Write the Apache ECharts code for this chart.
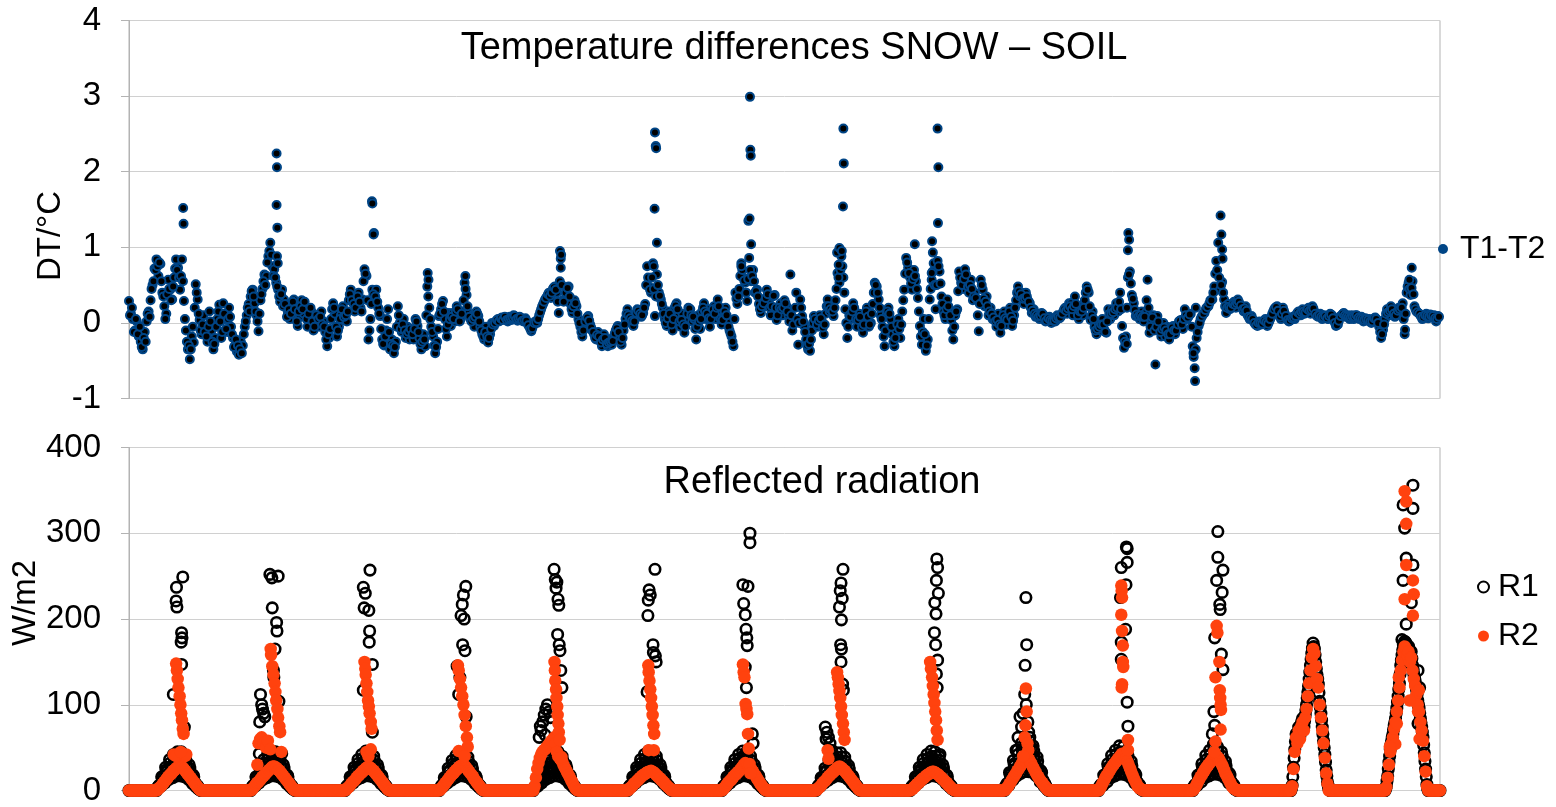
<!DOCTYPE html>
<html>
<head>
<meta charset="utf-8">
<script src="https://cdn.jsdelivr.net/npm/echarts@6/dist/echarts.min.js"></script>
<style>
html,body{margin:0;padding:0;background:#fff;}
#chart{width:1556px;height:807px;}
</style>
</head>
<body>
<div id="chart"></div>
<script>
const FONT = '"Liberation Sans", Arial, sans-serif';
const DAY = 24;            // hours per day
const X_MAX = 334;         // length of the record in hours
const SLOTS_PER_HOUR = 3;  // radiation logged every 20 minutes
const FIRST_DAY_SLOT = 22; // 07:20, first slot of the in-between daytime samples

// Axis scales
const tempAxis = { min: -1, max: 4, step: 1 };
const radAxis = { min: 0, max: 400, step: 100 };

// T1-T2 (°C) on the full half hour (hh:00 / hh:30), one row per day
const dtHalfHourly = [
  0.29,0.12,0.05,-0.10,0.02,-0.18,-0.25,-0.35,-0.12,0.02,0.15,0.30,0.50,0.72,0.84,0.62,0.78,0.40,0.22,0.12,0.57,0.44,0.31,0.60,0.84,0.73,0.44,0.84,0.29,-0.10,-0.35,-0.48,-0.18,-0.26,0.51,0.31,0.04,-0.15,0.10,-0.05,-0.25,0.15,-0.10,-0.35,-0.20,0.05,0.24,-0.20,
  0.26,0.05,-0.12,0.20,-0.05,-0.20,-0.30,-0.38,-0.42,-0.25,-0.30,-0.05,0.10,0.25,0.35,0.44,0.26,0.10,-0.11,0.30,0.45,0.64,0.62,0.88,1.06,0.75,0.71,0.53,0.44,0.28,0.44,0.31,0.20,0.13,0.05,0.20,0.31,0.10,-0.04,0.08,0.30,0.12,0.20,-0.05,0.08,0.15,-0.10,0.02,
  0.10,-0.05,0.15,0.02,-0.12,-0.31,-0.20,0.05,0.26,0.12,-0.18,-0.05,0.10,0.22,0.13,0.02,0.30,0.44,0.35,0.15,0.25,0.40,0.20,0.31,0.71,0.62,-0.22,0.05,0.44,0.30,0.44,0.20,0.09,-0.22,-0.30,-0.10,0.18,-0.35,-0.22,-0.40,-0.25,0.22,0.00,-0.12,0.05,-0.20,-0.05,-0.22,
  -0.10,-0.22,0.05,-0.04,-0.20,-0.35,-0.15,-0.31,0.48,0.20,-0.05,-0.18,-0.40,-0.25,0.09,0.18,0.29,0.05,-0.18,0.13,-0.04,0.13,0.02,0.22,0.10,0.05,0.15,0.53,0.37,0.13,0.05,0.10,-0.05,0.15,0.09,-0.05,-0.15,-0.22,-0.05,-0.26,-0.15,0.00,-0.04,0.02,0.05,0.03,0.07,0.05,
  0.06,0.02,0.08,0.04,0.10,0.07,0.03,0.08,0.05,0.02,0.06,0.00,-0.05,-0.11,-0.03,0.02,0.00,0.10,0.18,0.25,0.31,0.35,0.40,0.33,0.45,0.48,0.40,0.13,0.73,0.30,0.31,0.45,0.48,0.25,0.13,0.30,0.22,0.05,-0.05,-0.18,-0.04,0.05,0.09,-0.02,-0.10,-0.15,-0.22,-0.12,
  -0.20,-0.31,-0.15,-0.25,-0.31,-0.22,-0.29,-0.18,-0.10,-0.04,-0.20,-0.29,-0.10,0.05,0.18,0.02,0.10,-0.04,0.08,0.18,0.15,0.08,0.13,0.25,0.75,0.48,0.40,0.79,0.09,0.64,0.40,0.31,0.20,0.05,-0.04,0.15,0.08,-0.10,0.20,0.26,0.10,-0.05,0.12,-0.13,0.05,0.20,0.18,0.02,
  0.05,-0.22,0.10,-0.08,0.15,0.26,0.05,0.18,-0.05,0.13,0.22,0.05,0.31,0.15,-0.02,0.09,0.20,0.02,-0.10,-0.18,-0.31,0.40,0.25,0.45,0.79,0.60,0.53,0.29,0.86,0.55,0.70,0.40,0.44,0.25,0.13,0.30,0.22,0.44,0.30,0.10,0.35,0.37,0.04,0.15,0.26,0.10,0.30,0.22,
  0.10,0.64,-0.10,0.05,0.40,-0.29,0.31,0.09,-0.04,-0.22,-0.35,-0.37,-0.10,0.09,0.00,-0.05,0.10,0.02,-0.15,0.12,0.31,0.15,0.20,0.09,0.30,0.66,0.53,0.88,0.60,0.18,-0.20,0.10,0.05,0.26,0.15,-0.05,0.12,0.04,-0.13,0.10,0.20,-0.05,0.00,0.25,0.53,0.48,0.31,0.10,
  -0.05,-0.31,0.10,0.20,0.05,-0.15,-0.31,-0.10,0.05,-0.20,0.15,0.44,0.86,0.73,0.60,0.44,0.70,0.55,0.33,-0.04,-0.29,0.05,-0.37,-0.22,0.31,0.57,0.79,0.18,0.82,0.68,0.35,0.15,0.05,0.31,0.15,0.04,-0.22,0.10,0.18,0.68,0.53,0.45,0.71,0.57,0.40,0.57,0.30,0.40,
  0.31,-0.11,0.57,0.44,0.22,0.35,0.10,0.20,0.05,0.09,-0.05,0.12,-0.13,0.05,0.15,-0.02,0.09,0.20,-0.04,0.10,0.30,0.48,0.35,0.40,0.25,0.40,0.30,0.26,0.13,0.18,0.08,0.12,0.05,0.13,0.10,0.02,0.04,0.08,0.00,0.05,0.02,0.10,0.06,0.09,0.15,0.20,0.12,0.26,
  0.26,0.10,0.35,0.15,0.05,0.22,0.10,0.30,0.48,0.40,0.04,0.15,-0.05,-0.15,0.00,-0.10,0.05,-0.09,-0.13,0.18,0.05,0.18,0.10,0.26,0.15,0.40,-0.04,-0.33,-0.18,0.60,0.68,0.37,0.26,0.09,0.13,0.05,0.15,0.02,0.13,0.57,-0.13,0.04,0.10,-0.55,0.09,-0.05,-0.18,0.00,
  -0.18,-0.05,-0.22,-0.10,-0.04,-0.15,-0.05,0.02,0.04,-0.08,0.18,0.05,0.09,0.12,-0.31,-0.60,-0.20,-0.04,0.05,0.10,0.13,0.20,0.22,0.30,0.31,0.48,0.82,1.06,0.44,0.54,0.31,0.13,0.25,0.18,0.22,0.28,0.20,0.31,0.25,0.22,0.15,0.22,0.10,0.05,0.09,0.02,-0.02,-0.04,
  0.02,-0.02,0.00,0.05,-0.04,0.02,0.08,0.15,0.20,0.22,0.10,0.05,0.20,0.12,0.05,0.02,0.04,0.08,0.05,0.12,0.15,0.10,0.18,0.12,0.15,0.20,0.12,0.22,0.15,0.10,0.08,0.12,0.05,0.10,0.08,0.05,0.12,0.10,0.03,-0.04,-0.02,0.08,0.10,0.13,0.08,0.10,0.05,0.10,
  0.05,0.10,0.09,0.05,0.08,0.02,0.06,0.03,0.05,0.00,0.04,0.07,0.04,-0.05,-0.20,-0.09,0.05,0.18,0.10,0.22,0.15,0.08,0.13,0.20,0.15,0.26,-0.15,0.40,0.53,0.37,0.55,0.22,0.15,0.13,0.10,0.05,0.09,0.12,0.06,0.11,0.08,0.10,0.02,0.09
];

// T1-T2 (°C) at quarter past / quarter to (hh:15 / hh:45), one row per day
const dtQuarterPast = [
  0.10,0.20,-0.12,0.05,-0.15,-0.05,-0.32,-0.20,-0.25,0.12,0.08,0.45,0.55,0.70,0.75,0.80,0.55,0.35,0.05,0.38,0.45,0.30,0.48,0.72,0.70,0.60,0.62,0.55,0.05,-0.25,-0.30,-0.35,-0.05,0.20,0.40,0.12,-0.10,-0.02,-0.12,-0.18,-0.05,0.02,-0.25,-0.28,-0.05,0.15,0.02,-0.12,
  0.12,-0.08,0.05,0.08,-0.15,-0.32,-0.22,-0.30,-0.35,-0.40,-0.15,0.02,0.20,0.15,0.42,0.35,0.15,0.02,0.12,0.38,0.55,0.50,0.80,0.95,0.90,0.62,0.60,0.48,0.35,0.38,0.22,0.25,0.08,0.18,0.12,0.28,0.18,0.02,0.15,0.22,0.18,0.28,0.05,0.12,0.20,0.02,-0.05,0.10,
  0.05,0.08,-0.02,-0.05,-0.22,-0.15,-0.08,0.18,0.20,-0.05,-0.10,0.05,0.18,0.08,0.10,0.15,0.38,0.30,0.25,0.20,0.35,0.28,0.15,0.55,0.65,0.30,-0.10,0.25,0.38,0.35,0.28,0.12,-0.08,-0.28,-0.18,0.05,-0.12,-0.28,-0.30,-0.32,-0.05,0.10,-0.08,-0.02,-0.10,-0.15,-0.12,-0.08,
  -0.15,-0.08,0.02,-0.12,-0.28,-0.25,-0.22,0.10,0.35,0.05,-0.12,-0.30,-0.32,-0.08,0.12,0.25,0.15,-0.08,-0.02,0.05,0.08,0.05,0.15,0.18,0.02,0.12,0.30,0.45,0.22,0.08,0.02,0.05,0.08,0.12,0.02,-0.10,-0.18,-0.12,-0.18,-0.20,-0.08,-0.02,0.00,0.04,0.02,0.06,0.04,0.08,
  0.04,0.05,0.06,0.07,0.09,0.05,0.06,0.07,0.03,0.04,0.03,-0.03,-0.08,-0.07,0.00,0.01,0.05,0.14,0.22,0.28,0.33,0.38,0.36,0.40,0.47,0.44,0.28,0.55,0.50,0.28,0.40,0.46,0.35,0.18,0.22,0.26,0.12,0.00,-0.12,-0.10,0.02,0.07,0.03,-0.06,-0.12,-0.20,-0.16,-0.18,
  -0.26,-0.22,-0.20,-0.28,-0.26,-0.25,-0.24,-0.14,-0.07,-0.12,-0.25,-0.20,-0.02,0.12,0.10,0.06,0.03,0.02,0.13,0.16,0.12,0.10,0.20,0.50,0.60,0.44,0.60,0.45,0.35,0.50,0.36,0.25,0.12,0.00,0.06,0.12,-0.02,0.05,0.23,0.18,0.02,0.04,-0.02,-0.05,0.12,0.19,0.10,0.08,
  -0.08,-0.05,0.02,0.05,0.20,0.15,0.12,0.06,0.05,0.18,0.12,0.20,0.22,0.05,0.04,0.15,0.10,-0.05,-0.14,-0.25,0.05,0.32,0.35,0.62,0.70,0.56,0.40,0.58,0.70,0.62,0.55,0.42,0.35,0.18,0.22,0.26,0.33,0.38,0.20,0.22,0.36,0.20,0.10,0.20,0.18,0.20,0.26,0.15,
  0.02,0.10,-0.02,0.20,0.05,0.00,0.20,0.02,-0.12,-0.30,-0.28,-0.22,0.00,0.05,-0.02,0.03,0.06,-0.06,-0.02,0.22,0.22,0.18,0.15,0.20,0.45,0.60,0.70,0.75,0.40,0.00,-0.05,0.08,0.15,0.20,0.05,0.04,0.08,-0.05,-0.02,0.15,0.08,-0.02,0.12,0.40,0.50,0.40,0.20,0.05,
  -0.18,-0.10,0.15,0.12,-0.05,-0.25,-0.20,-0.02,-0.08,-0.02,0.30,0.65,0.80,0.66,0.52,0.58,0.62,0.45,0.15,-0.18,-0.12,-0.15,-0.30,0.05,0.45,0.68,0.50,0.50,0.75,0.52,0.25,0.10,0.18,0.22,0.10,-0.10,-0.05,0.15,0.42,0.60,0.50,0.58,0.64,0.48,0.50,0.45,0.35,0.33,
  0.10,0.25,0.50,0.32,0.28,0.22,0.15,0.12,0.07,0.02,0.04,-0.02,-0.04,0.10,0.06,0.04,0.15,0.08,0.03,0.20,0.40,0.42,0.38,0.32,0.33,0.35,0.28,0.20,0.16,0.12,0.10,0.08,0.09,0.12,0.06,0.03,0.06,0.04,0.03,0.03,0.06,0.08,0.07,0.12,0.18,0.16,0.19,0.22,
  0.18,0.22,0.25,0.10,0.15,0.15,0.20,0.40,0.44,0.22,0.10,0.05,-0.10,-0.08,-0.05,-0.02,-0.02,-0.12,0.02,0.12,0.12,0.14,0.18,0.20,0.28,0.18,-0.20,-0.25,0.20,0.64,0.52,0.32,0.17,0.11,0.09,0.10,0.08,0.08,0.30,0.20,-0.05,0.07,-0.10,-0.05,0.02,-0.12,-0.08,-0.06,
  -0.10,-0.15,-0.15,-0.06,-0.10,-0.10,-0.02,0.03,-0.02,0.05,0.10,0.07,0.11,-0.05,-0.45,-0.35,-0.12,0.00,0.08,0.12,0.17,0.21,0.26,0.30,0.40,0.65,0.70,0.60,0.50,0.40,0.22,0.20,0.21,0.20,0.25,0.24,0.26,0.28,0.23,0.18,0.19,0.16,0.08,0.07,0.05,0.00,-0.03,0.00,
  0.00,-0.01,0.03,0.01,-0.01,0.05,0.12,0.18,0.21,0.16,0.08,0.12,0.16,0.09,0.04,0.03,0.06,0.07,0.09,0.14,0.12,0.14,0.15,0.14,0.18,0.16,0.17,0.19,0.12,0.09,0.10,0.08,0.07,0.09,0.06,0.09,0.11,0.06,0.00,-0.03,0.03,0.09,0.12,0.10,0.09,0.08,0.07,0.08,
  0.08,0.10,0.07,0.06,0.05,0.04,0.05,0.04,0.02,0.02,0.06,0.05,0.00,-0.12,-0.15,-0.02,0.12,0.14,0.16,0.18,0.12,0.10,0.16,0.18,0.20,0.05,0.12,0.48,0.45,0.46,0.38,0.18,0.14,0.12,0.08,0.07,0.10,0.09,0.08,0.10,0.09,0.06,0.05,0.08
];

// Extra T1-T2 readings during the rapid midday swings: [hour, °C]
const dtPeaks = [
  [13.8,1.52],[13.9,1.31],
  [37.6,2.24],[37.7,2.06],[37.6,1.56],[37.8,1.26],[37.7,0.88],[37.9,0.79],
  [61.9,1.61],[62.0,1.58],[62.4,1.19],[62.3,1.17],
  [76.1,0.66],[76.3,0.57],[85.7,0.62],
  [109.8,0.95],[110.0,0.85],[110.1,0.90],
  [133.7,0.75],[133.9,1.51],[134.0,2.52],[134.2,2.34],[134.3,2.31],[134.5,1.06],
  [156.0,0.75],[157.8,1.35],[158.1,1.38],[158.2,2.99],[158.3,2.29],[158.4,2.21],[158.5,1.04],
  [180.4,0.93],[181.0,0.99],[180.8,0.77],[181.6,0.95],[181.9,1.54],[182.0,2.57],[182.1,2.11],
  [200.2,1.04],[204.5,0.66],[204.6,1.08],[204.8,0.93],[206.0,2.57],[206.2,2.06],[206.1,1.32],
  [254.2,-0.28],[254.5,0.96],[254.6,1.19],[254.8,1.10],
  [271.2,-0.40],[271.6,-0.77],[271.8,0.20],
  [278.1,1.42],[278.3,1.17],[278.5,0.97],[278.6,0.85],
  [325.1,-0.09],[326.2,0.57],[326.8,0.73]
];

// Reflected radiation R1 (W/m2), one row per day, one value every 20 minutes from 00:00
const r1Rows = [
  [0,0,0,0,0,0,0,0,0,0,0,0,0,0,0,0,0,0,0,0,0,0, 4,6,6,16,15,12,27,22,16,36,28,20,42,33,22,45,34,23,45,33,21,40,28,17,30,20,11,18,10,5,6,2,1, 0,0,0,0,0,0,0,0,0,0,0,0,0,0,0,0,0],
  [0,0,0,0,0,0,0,0,0,0,0,0,0,0,0,0,0,0,0,0,0,0, 4,6,6,16,15,12,27,22,16,36,28,20,42,33,22,46,34,23,45,33,21,40,28,17,30,20,11,18,10,5,6,2,1, 0,0,0,0,0,0,0,0,0,0,0,0,0,0,0,0,0],
  [0,0,0,0,0,0,0,0,0,0,0,0,0,0,0,0,0,0,0,0,0,0, 4,6,6,16,15,12,27,22,16,36,28,20,42,33,22,46,34,23,45,33,21,40,28,17,30,20,11,18,10,5,6,2,1, 0,0,0,0,0,0,0,0,0,0,0,0,0,0,0,0,0],
  [0,0,0,0,0,0,0,0,0,0,0,0,0,0,0,0,0,0,0,0,0,0, 3,6,6,15,15,12,26,22,16,35,28,19,41,32,22,44,33,22,44,32,21,39,27,17,29,19,11,17,10,5,6,2,1, 0,0,0,0,0,0,0,0,0,0,0,0,0,0,0,0,0],
  [0,0,0,0,0,0,0,0,0,0,0,0,0,0,0,0,0,0,0,0,0,0, 4,6,6,16,15,12,27,22,16,36,28,20,42,33,22,46,34,23,45,33,21,40,28,17,30,20,11,18,10,5,6,2,1, 0,0,0,0,0,0,0,0,0,0,0,0,0,0,0,0,0],
  [0,0,0,0,0,0,0,0,0,0,0,0,0,0,0,0,0,0,0,0,0,0, 4,6,6,16,15,12,27,22,16,36,28,20,42,33,22,46,34,23,45,33,21,40,28,17,30,20,11,18,10,5,6,2,1, 0,0,0,0,0,0,0,0,0,0,0,0,0,0,0,0,0],
  [0,0,0,0,0,0,0,0,0,0,0,0,0,0,0,0,0,0,0,0,0,0, 4,6,6,16,15,12,27,22,16,36,28,20,42,33,22,46,34,23,45,33,21,40,28,17,30,20,11,18,10,5,6,2,1, 0,0,0,0,0,0,0,0,0,0,0,0,0,0,0,0,0],
  [0,0,0,0,0,0,0,0,0,0,0,0,0,0,0,0,0,0,0,0,0,0, 3,6,6,15,15,12,26,22,16,35,28,19,41,32,22,44,33,22,44,32,21,39,27,17,29,19,11,17,10,5,6,2,1, 0,0,0,0,0,0,0,0,0,0,0,0,0,0,0,0,0],
  [0,0,0,0,0,0,0,0,0,0,0,0,0,0,0,0,0,0,0,0,0,0, 4,6,6,16,15,12,27,22,16,36,28,20,42,33,22,46,34,23,45,33,21,40,28,17,30,20,11,18,10,5,6,2,1, 0,0,0,0,0,0,0,0,0,0,0,0,0,0,0,0,0],
  [0,0,0,0,0,0,0,0,0,0,0,0,0,0,0,0,0,0,0,0,0,0, 5,8,8,21,20,16,35,29,21,47,36,26,55,43,29,60,44,30,58,43,27,52,36,22,39,26,14,23,13,7,8,3,1, 0,0,0,0,0,0,0,0,0,0,0,0,0,0,0,0,0],
  [0,0,0,0,0,0,0,0,0,0,0,0,0,0,0,0,0,0,0,0,0,0, 5,7,7,18,17,14,31,25,18,41,32,23,47,37,25,52,38,26,51,37,24,45,32,19,34,23,12,20,11,6,7,2,1, 0,0,0,0,0,0,0,0,0,0,0,0,0,0,0,0,0],
  [0,0,0,0,0,0,0,0,0,0,0,0,0,0,0,0,0,0,0,0,0,0, 5,7,7,18,17,14,31,25,18,41,32,23,47,37,25,52,38,26,51,37,24,45,32,19,34,23,12,20,11,6,7,2,1, 0,0,0,0,0,0,0,0,0,0,0,0,0,0,0,0,0],
  [0,0,0,0,0,0,0,0,0,0,0,0,0,0,0,0,0,0,0,0,0,0, 0,0,0,6,27,48,66,58,74,64,78,84,74,88,100,115,130,146,160,172,165,150,135,124,104,90,74,58,42,24,10,2,0, 0,0,0,0,0,0,0,0,0,0,0,0,0,0,0,0,0],
  [0,0,0,0,0,0,0,0,0,0,0,0,0,0,0,0,0,0,0,0,0,0, 0,0,0,5,17,33,48,58,66,76,84,96,110,125,146,158,170,174,172,164,168,158,162,146,136,128,118,105,96,84,74,62,44,25,7, 0,0,0,0,0,0,0,0,0,0]
];

// R1 (W/m2) ten minutes after each daytime slot, starting 07:30, one row per day
const r1DaytimeBetween = [
  [4,5,5,14,12,9,24,19,13,32,24,15,37,27,17,40,29,17,40,27,16,35,23,13,26,16,8,16,9,4,5,2,1],
  [4,5,5,14,12,9,24,19,13,32,24,15,37,27,17,40,29,17,40,27,16,35,23,13,26,16,8,16,9,4,5,2,1],
  [4,5,5,14,12,9,24,19,13,32,24,15,37,27,17,40,29,17,40,27,16,35,23,13,26,16,8,16,9,4,5,2,1],
  [3,5,5,13,12,9,23,18,12,31,23,15,36,26,17,39,28,17,39,26,16,34,22,13,25,15,8,15,9,4,5,2,1],
  [4,5,5,14,12,9,24,19,13,32,24,15,37,27,17,40,29,17,40,27,16,35,23,13,26,16,8,16,9,4,5,2,1],
  [4,5,5,14,12,9,24,19,13,32,24,15,37,27,17,40,29,17,40,27,16,35,23,13,26,16,8,16,9,4,5,2,1],
  [4,5,5,14,12,9,24,19,13,32,24,15,37,27,17,40,29,17,40,27,16,35,23,13,26,16,8,16,9,4,5,2,1],
  [3,5,5,13,12,9,23,18,12,31,23,15,36,26,17,39,28,17,39,26,16,34,22,13,25,15,8,15,9,4,5,2,1],
  [4,5,5,14,12,9,24,19,13,32,24,15,37,27,17,40,29,17,40,27,16,35,23,13,26,16,8,16,9,4,5,2,1],
  [5,6,6,18,16,12,31,25,17,42,31,20,48,35,22,52,38,22,52,35,21,46,30,17,34,21,10,21,12,5,6,3,1],
  [5,6,6,16,14,10,27,21,15,36,27,17,42,31,19,45,33,19,45,31,18,40,26,15,29,18,9,18,10,5,6,2,1],
  [5,6,6,16,14,10,27,21,15,36,27,17,42,31,19,45,33,19,45,31,18,40,26,15,29,18,9,18,10,5,6,2,1],
  [0,0,3,16,38,57,62,66,69,71,81,79,81,94,108,122,138,153,166,168,158,142,130,114,97,82,66,50,33,17,6,1,0],
  [0,0,2,11,25,40,53,62,71,80,90,103,118,136,152,164,172,173,168,166,163,160,154,141,132,123,112,100,90,79,68,53,34,16,3]
];

// Reflected radiation R2 (W/m2), same 20-minute sampling as R1
const r2Rows = [
  [0,0,0,0,0,0,0,0,0,0,0,0,0,0,0,0,0,0,0,0,0,0, 1,3,4,6,8,10,12,14,16,18,19,21,23,24,26,27,28,29,28,27,25,23,21,19,17,15,13,11,9,7,5,3,1, 0,0,0,0,0,0,0,0,0,0,0,0,0,0,0,0,0],
  [0,0,0,0,0,0,0,0,0,0,0,0,0,0,0,0,0,0,0,0,0,0, 1,3,5,7,9,10,12,14,16,17,19,21,22,24,25,27,28,28,27,26,24,23,21,19,17,15,13,11,9,7,5,3,1, 0,0,0,0,0,0,0,0,0,0,0,0,0,0,0,0,0],
  [0,0,0,0,0,0,0,0,0,0,0,0,0,0,0,0,0,0,0,0,0,0, 1,3,4,6,8,10,11,13,15,17,18,20,21,23,24,26,27,28,27,26,24,23,21,19,17,15,13,11,9,7,5,3,1, 0,0,0,0,0,0,0,0,0,0,0,0,0,0,0,0,0],
  [0,0,0,0,0,0,0,0,0,0,0,0,0,0,0,0,0,0,0,0,0,0, 1,3,5,7,9,11,13,15,17,19,20,22,24,25,27,28,29,30,29,28,26,24,22,20,18,16,13,11,9,7,5,3,1, 0,0,0,0,0,0,0,0,0,0,0,0,0,0,0,0,0],
  [0,0,0,0,0,0,0,0,0,0,0,0,0,0,0,0,0,0,0,0,0,0, 5,15,25,32,38,42,45,47,48,50,52,54,56,58,60,62,55,45,40,38,36,34,30,27,24,21,18,15,12,9,6,3,1, 0,0,0,0,0,0,0,0,0,0,0,0,0,0,0,0,0],
  [0,0,0,0,0,0,0,0,0,0,0,0,0,0,0,0,0,0,0,0,0,0, 1,3,4,6,8,9,11,12,14,15,17,18,19,20,21,22,22,23,22,21,20,18,17,15,14,12,11,9,7,6,4,3,1, 0,0,0,0,0,0,0,0,0,0,0,0,0,0,0,0,0],
  [0,0,0,0,0,0,0,0,0,0,0,0,0,0,0,0,0,0,0,0,0,0, 1,3,5,7,9,11,12,14,16,18,19,21,22,24,26,28,30,32,31,30,28,26,24,22,19,17,14,12,9,7,5,3,1, 0,0,0,0,0,0,0,0,0,0,0,0,0,0,0,0,0],
  [0,0,0,0,0,0,0,0,0,0,0,0,0,0,0,0,0,0,0,0,0,0, 1,3,4,6,8,10,11,13,15,17,18,20,21,23,24,26,27,28,27,26,24,23,21,19,17,15,13,11,9,7,5,3,1, 0,0,0,0,0,0,0,0,0,0,0,0,0,0,0,0,0],
  [0,0,0,0,0,0,0,0,0,0,0,0,0,0,0,0,0,0,0,0,0,0, 1,2,4,5,7,8,10,11,13,14,15,17,18,19,20,21,22,22,21,20,19,18,16,15,13,12,10,9,7,5,4,2,1, 0,0,0,0,0,0,0,0,0,0,0,0,0,0,0,0,0],
  [0,0,0,0,0,0,0,0,0,0,0,0,0,0,0,0,0,0,0,0,0,0, 1,3,5,8,10,13,15,18,20,23,25,28,30,33,35,38,40,38,36,33,30,27,24,21,18,16,13,11,9,7,5,3,1, 0,0,0,0,0,0,0,0,0,0,0,0,0,0,0,0,0],
  [0,0,0,0,0,0,0,0,0,0,0,0,0,0,0,0,0,0,0,0,0,0, 2,5,8,11,14,17,19,22,24,27,29,31,33,35,37,39,41,43,42,40,37,34,30,26,22,18,14,11,8,5,3,2,1, 0,0,0,0,0,0,0,0,0,0,0,0,0,0,0,0,0],
  [0,0,0,0,0,0,0,0,0,0,0,0,0,0,0,0,0,0,0,0,0,0, 2,4,7,10,13,16,18,21,23,26,28,30,32,34,36,38,40,40,39,37,34,31,28,24,20,17,14,11,8,5,3,2,1, 0,0,0,0,0,0,0,0,0,0,0,0,0,0,0,0,0],
  [0,0,0,0,0,0,0,0,0,0,0,0,0,0,0,0,0,0,0,0,0,0, 0,0,0,5,25,45,62,55,70,60,75,80,70,85,95,110,125,140,155,165,160,145,130,120,100,85,70,55,38,20,8,0,0, 0,0,0,0,0,0,0,0,0,0,0,0,0,0,0,0,0],
  [0,0,0,0,0,0,0,0,0,0,0,0,0,0,0,0,0,0,0,0,0,0, 0,0,0,4,15,30,45,55,62,72,80,92,105,120,140,152,162,168,165,158,162,150,155,140,130,122,112,100,92,80,70,58,40,22,5, 0,0,0,0,0,0,0,0,0,0]
];

// Extra R1 samples around the midday maxima: [day, hour of day, W/m2]
const r1Peaks = [
  [0,13.7,249],[0,12.1,237],[0,12.0,221],[0,12.2,214],[0,13.4,184],[0,13.5,178],[0,13.3,173],[0,13.4,147],[0,11.3,112],[0,14.1,74],
  [1,11.9,252],[1,12.4,248],[1,14.0,250],[1,12.5,213],[1,13.6,196],[1,13.7,186],[1,13.2,165],[1,12.8,140],[1,12.9,132],[1,9.5,112],[1,9.8,100],[1,10.0,95],[1,10.3,90],[1,10.6,86],[1,9.3,80],[1,14.2,104],[1,9.2,43],[1,14.9,43],
  [2,13.4,257],[2,11.7,237],[2,12.2,230],[2,11.9,213],[2,13.1,210],[2,13.3,186],[2,13.2,173],[2,14.0,147],[2,11.7,117],[2,14.0,68],
  [3,13.8,238],[3,13.2,228],[3,12.9,217],[3,12.6,204],[3,13.4,200],[3,13.0,170],[3,13.6,163],[3,11.6,145],[3,12.3,132],[3,12.0,112],[3,13.9,86],
  [4,12.3,258],[4,12.6,246],[4,13.0,243],[4,12.8,236],[4,13.3,223],[4,13.5,216],[4,13.2,182],[4,13.6,170],[4,13.8,163],[4,14.0,140],[4,14.3,120],
  [4,8.5,62],[4,8.8,75],[4,9.0,70],[4,9.4,80],[4,9.8,88],[4,10.2,95],[4,10.6,100],[4,11.0,92],[4,11.4,85],[4,10.0,65],
  [5,14.0,258],[5,12.5,234],[5,12.8,228],[5,12.3,222],[5,12.2,204],[5,13.5,170],[5,13.6,161],[5,14.1,157],[5,14.3,150],[5,12.0,115],
  [6,14.2,300],[6,14.2,289],[6,12.4,240],[6,13.7,238],[6,12.6,218],[6,13.0,205],[6,13.2,188],[6,13.4,178],[6,13.5,169],[6,13.0,144],[6,13.3,120],[6,14.8,66],[6,15.0,55],
  [7,13.9,258],[7,13.4,242],[7,13.2,233],[7,13.7,224],[7,13.0,214],[7,13.5,199],[7,13.3,170],[7,13.5,165],[7,13.4,150],[7,13.8,124],[7,14.0,117],
  [7,9.4,74],[7,9.8,68],[7,10.2,62],[7,10.6,55],[7,11.0,47],[7,9.6,60],
  [8,13.8,270],[8,14.0,260],[8,13.7,245],[8,14.2,230],[8,13.3,219],[8,13.6,206],[8,13.2,184],[8,13.5,170],[8,14.0,152],[8,13.7,136],[8,13.9,120],[8,14.6,42],
  [9,12.5,225],[9,12.7,170],[9,12.3,146],[9,12.2,112],[9,12.6,100],[9,11.8,90],[9,11.0,86],[9,13.0,80],[9,11.4,74],[9,13.2,68],[9,10.5,62],[9,13.5,62],[9,14.0,50],[9,10.0,47],[9,14.5,40],
  [10,14.1,284],[10,14.3,282],[10,14.3,266],[10,12.8,260],[10,14.0,240],[10,12.6,225],[10,13.9,188],[10,12.8,173],[10,12.8,153],[10,14.3,103],[10,14.5,75],
  [11,13.4,302],[11,13.4,272],[11,14.7,257],[11,13.1,245],[11,14.5,231],[11,13.9,217],[11,14.0,211],[11,12.6,178],[11,14.3,159],[11,14.7,141],[11,12.4,92],[11,12.6,76],[11,12.0,66],[11,12.3,54],
  [13,15.1,356],[13,15.1,329],[13,12.6,333],[13,13.0,306],[13,13.4,271],[13,15.1,263],[13,12.6,245],[13,14.7,219],[13,13.4,194],[13,12.3,176],[13,16.4,140],[13,16.8,120],[13,16.4,100],[13,16.4,78]
];

// Extra R2 samples around the midday maxima: [day, hour of day, W/m2]
const r2Peaks = [
  [0,12.0,148],[0,12.2,140],[0,12.4,130],[0,12.6,120],[0,12.9,110],[0,13.1,100],[0,13.3,90],[0,13.5,82],[0,13.7,72],[0,13.9,66],[0,11.4,42],[0,12.0,40],[0,14.3,40],[0,14.6,42],[0,13.2,45],
  [1,12.1,165],[1,12.2,158],[1,12.5,145],[1,12.8,135],[1,13.1,125],[1,13.3,115],[1,13.5,105],[1,13.8,95],[1,14.0,85],[1,14.3,75],[1,14.5,68],[1,9.0,55],[1,9.4,60],[1,9.8,62],[1,10.3,55],[1,10.9,50],[1,11.4,58],[1,12.0,48],[1,14.8,45],[1,8.7,30],
  [2,12.0,150],[2,12.2,142],[2,12.3,135],[2,12.5,125],[2,12.7,115],[2,12.9,105],[2,13.1,98],[2,13.3,90],[2,13.6,80],[2,13.8,72],[2,12.5,45],[2,13.0,40],[2,13.6,48],
  [3,11.8,146],[3,12.0,140],[3,12.3,130],[3,12.6,120],[3,12.9,110],[3,13.2,100],[3,13.5,88],[3,13.8,75],[3,14.1,62],[3,14.3,51],[3,12.0,46],[3,13.5,40],
  [4,12.4,150],[4,12.5,140],[4,12.6,128],[4,12.8,118],[4,12.9,108],[4,13.1,98],[4,13.2,88],[4,13.4,78],[4,13.5,68],[4,13.7,59],[4,14.2,39],
  [5,12.3,146],[5,12.4,138],[5,12.6,128],[5,12.8,118],[5,13.0,108],[5,13.2,98],[5,13.4,88],[5,13.6,76],[5,13.8,66],[5,12.4,47],[5,13.7,47],
  [6,12.4,147],[6,12.6,138],[6,12.8,132],[6,13.1,101],[6,13.3,95],[6,13.5,89],[6,13.7,66],[6,13.9,49],[6,14.1,31],[6,14.3,20],
  [7,12.4,138],[7,12.6,132],[7,12.8,124],[7,13.0,116],[7,13.2,108],[7,13.4,98],[7,13.6,88],[7,13.9,78],[7,14.1,68],[7,14.3,59],[7,10.0,47],[7,10.2,37],
  [8,12.1,150],[8,12.3,142],[8,12.6,132],[8,12.8,122],[8,13.0,112],[8,13.2,102],[8,13.4,92],[8,13.6,82],[8,13.8,70],[8,14.0,59],
  [9,12.5,119],[9,12.7,92],[9,12.4,76],[9,12.2,62],[9,12.9,55],[9,13.1,47],[9,11.8,40],
  [10,12.8,239],[10,12.9,233],[10,13.0,225],[10,12.8,205],[10,13.0,186],[10,13.2,169],[10,13.2,150],[10,13.3,144],[10,13.0,124],[10,12.9,120],[10,14.5,59],[10,14.5,47],
  [11,13.1,192],[11,13.3,184],[11,13.8,150],[11,12.8,132],[11,13.9,117],[11,14.0,108],[11,14.1,100],[11,14.2,94],[11,14.1,71],[11,12.8,57],[11,12.5,45],
  [13,13.0,349],[13,13.4,337],[13,13.4,311],[13,13.4,263],[13,15.1,245],[13,15.3,229],[13,13.0,223],[13,15.1,204],[13,11.5,132],[13,16.6,117],[13,14.3,105],[13,16.4,92],[13,11.0,78],[13,16.8,60],[13,10.6,54],[13,9.2,51]
];

// ---- build [hour, value] pairs for the scatter series ----
function stepPoints(values, offset) {
  return values.map((v, i) => [i * 0.5 + offset, v]);
}
function rowPoints(rows, firstSlot) {
  const pts = [];
  rows.forEach((row, d) => row.forEach((v, i) => pts.push([d * DAY + (firstSlot + i) / SLOTS_PER_HOUR, v])));
  return pts;
}
function peakPoints(list) {
  return list.map(([d, h, v]) => [d * DAY + h, v]);
}

const dtData = stepPoints(dtHalfHourly, 0).concat(stepPoints(dtQuarterPast, 0.25), dtPeaks);
const r1Data = rowPoints(r1Rows, 0)
  .concat(rowPoints(r1DaytimeBetween, FIRST_DAY_SLOT + 0.5), peakPoints(r1Peaks));
const r2Data = rowPoints(r2Rows, 0).concat(peakPoints(r2Peaks));

const AXIS_GREY = '#b3b3b3';
const GRID_GREY = '#d0d0d0';

function valueAxis(gridIndex, scale) {
  return {
    type: 'value', gridIndex,
    min: scale.min, max: scale.max, interval: scale.step,
    axisLine: { show: true, lineStyle: { color: AXIS_GREY, width: 1 } },
    axisTick: { show: true, inside: false, length: 8, lineStyle: { color: AXIS_GREY } },
    axisLabel: { fontFamily: FONT, fontSize: 33, color: '#000', margin: 28 },
    splitLine: { show: true, lineStyle: { color: GRID_GREY, width: 1 } }
  };
}
function timeAxis(gridIndex) {
  return { type: 'value', gridIndex, min: 0, max: X_MAX, show: false, splitLine: { show: false } };
}
function label(text, x, y, rotation) {
  return {
    type: 'text', x, y, rotation: rotation || 0, silent: true,
    style: { text, align: 'center', verticalAlign: 'middle', fontFamily: FONT, fontSize: rotation ? 33 : 38, fill: '#000' }
  };
}

const chart = echarts.init(document.getElementById('chart'), null, { renderer: 'canvas' });
chart.setOption({
  animation: false,
  backgroundColor: '#ffffff',
  grid: [
    { left: 129, top: 20.5, width: 1311, height: 378, show: true, borderColor: AXIS_GREY, borderWidth: 1, backgroundColor: 'transparent' },
    { left: 129, top: 447.5, width: 1311, height: 346, show: true, borderColor: AXIS_GREY, borderWidth: 1, backgroundColor: 'transparent' }
  ],
  xAxis: [timeAxis(0), timeAxis(1)],
  yAxis: [valueAxis(0, tempAxis), valueAxis(1, radAxis)],
  graphic: [
    label('Temperature differences SNOW – SOIL', 794, 49),
    label('Reflected radiation', 822, 483),
    label('DT/°C', 51, 236, Math.PI / 2),
    label('W/m2', 26, 603, Math.PI / 2)
  ],
  legend: [
    { data: [{ name: 'T1-T2', itemStyle: { color: '#004586', borderWidth: 0 } }],
      left: 1433, top: 228, itemWidth: 10, itemHeight: 10, selectedMode: false,
      textStyle: { fontFamily: FONT, fontSize: 32, color: '#000', padding: [0, 0, 0, 7] } },
    { data: ['R1', 'R2'], orient: 'vertical',
      left: 1472, top: 566, itemGap: 17, itemWidth: 11, itemHeight: 11, selectedMode: false,
      textStyle: { fontFamily: FONT, fontSize: 32, color: '#000', padding: [0, 0, 0, 4] } }
  ],
  series: [
    { name: 'T1-T2', type: 'scatter', xAxisIndex: 0, yAxisIndex: 0, silent: true,
      symbol: 'circle', symbolSize: 8, data: dtData,
      itemStyle: { color: '#000000', borderColor: '#004586', borderWidth: 2, opacity: 1 } },
    { name: 'R1', type: 'scatter', xAxisIndex: 1, yAxisIndex: 1, silent: true,
      symbol: 'circle', symbolSize: 10.5, data: r1Data,
      itemStyle: { color: 'rgba(0,0,0,0)', borderColor: '#000000', borderWidth: 2.6, opacity: 1 } },
    { name: 'R2', type: 'scatter', xAxisIndex: 1, yAxisIndex: 1, silent: true,
      symbol: 'circle', symbolSize: 12.5, data: r2Data,
      itemStyle: { color: '#ff420e', opacity: 1 } }
  ]
});
</script>
</body>
</html>
